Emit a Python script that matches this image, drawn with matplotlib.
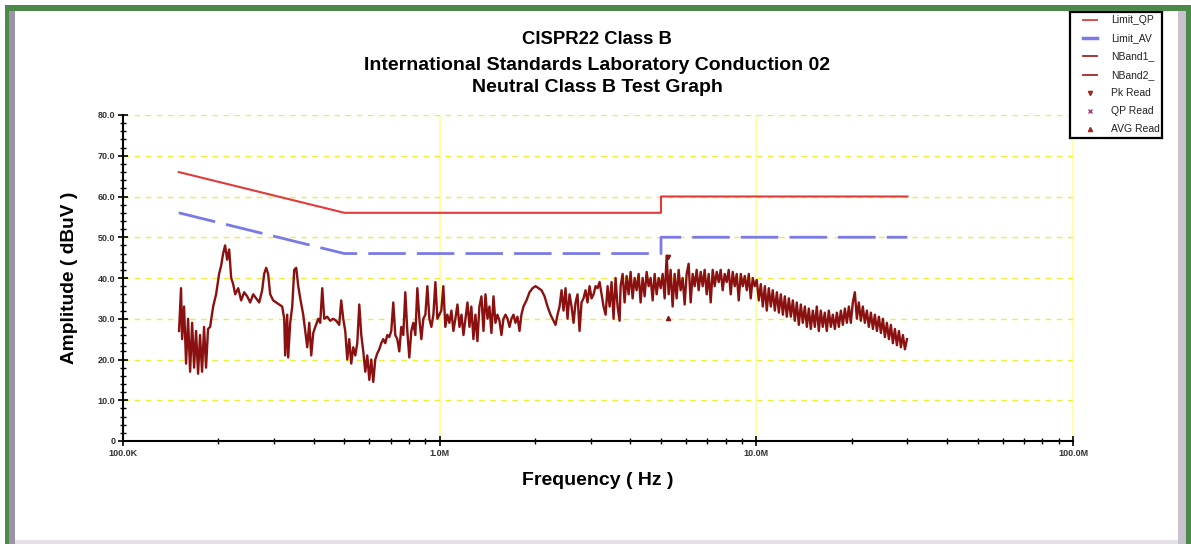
import matplotlib
matplotlib.use('Agg')
import matplotlib.pyplot as plt
from matplotlib.patches import Rectangle
from matplotlib.ticker import LogLocator, NullFormatter, MultipleLocator

# limit lines (MHz, dBuV)
qp_mhz = [0.15, 0.5, 5.0, 5.0, 30.0]
qp_db = [66.0, 56.0, 56.0, 60.0, 60.0]
av_mhz = [0.15, 0.5, 5.0, 5.0, 30.0]
av_db = [56.0, 46.0, 46.0, 50.0, 50.0]

trace_mhz = [
    0.1503, 0.1525, 0.1537, 0.1559, 0.1582, 0.1605, 0.1629, 0.1653, 0.1677, 0.1701,
    0.1726, 0.1751, 0.1777, 0.1803, 0.1829, 0.1856, 0.1884, 0.1926, 0.1968, 0.2011,
    0.2041, 0.2071, 0.2101, 0.2132, 0.2164, 0.2196, 0.2228, 0.2261, 0.2311, 0.2361,
    0.2413, 0.2467, 0.2521, 0.2577, 0.2634, 0.2692, 0.2751, 0.2791, 0.2832, 0.2873,
    0.2916, 0.2980, 0.3046, 0.3113, 0.3182, 0.3229, 0.3252, 0.3300, 0.3324, 0.3373,
    0.3423, 0.3473, 0.3524, 0.3576, 0.3628, 0.3708, 0.3763, 0.3818, 0.3874, 0.3930,
    0.3988, 0.4047, 0.4136, 0.4196, 0.4258, 0.4320, 0.4415, 0.4512, 0.4612, 0.4714,
    0.4818, 0.4888, 0.4960, 0.5033, 0.5107, 0.5181, 0.5258, 0.5335, 0.5414, 0.5493,
    0.5574, 0.5655, 0.5738, 0.5823, 0.5908, 0.5995, 0.6081, 0.6170, 0.6261, 0.6353,
    0.6446, 0.6540, 0.6636, 0.6734, 0.6833, 0.6933, 0.7034, 0.7137, 0.7242, 0.7348,
    0.7456, 0.7565, 0.7676, 0.7789, 0.7903, 0.8019, 0.8137, 0.8257, 0.8378, 0.8501,
    0.8626, 0.8753, 0.8881, 0.9012, 0.9144, 0.9278, 0.9415, 0.9553, 0.9693, 0.9835,
    0.9980, 1.012, 1.027, 1.042, 1.057, 1.073, 1.089, 1.105, 1.121, 1.138,
    1.155, 1.172, 1.189, 1.206, 1.224, 1.242, 1.259, 1.278, 1.297, 1.316,
    1.335, 1.355, 1.375, 1.395, 1.416, 1.436, 1.457, 1.479, 1.500, 1.522,
    1.545, 1.567, 1.590, 1.614, 1.638, 1.662, 1.685, 1.710, 1.735, 1.761,
    1.787, 1.812, 1.839, 1.880, 1.922, 1.965, 2.008, 2.052, 2.097, 2.144,
    2.191, 2.239, 2.289, 2.322, 2.356, 2.391, 2.426, 2.461, 2.497, 2.534,
    2.571, 2.609, 2.647, 2.686, 2.725, 2.765, 2.805, 2.846, 2.888, 2.930,
    2.974, 3.018, 3.062, 3.107, 3.153, 3.199, 3.246, 3.293, 3.342, 3.391,
    3.441, 3.490, 3.541, 3.593, 3.646, 3.700,
    3.727, 3.782, 3.837, 3.894, 3.951, 4.008, 4.067, 4.127, 4.187, 4.249,
    4.311, 4.374, 4.439, 4.504, 4.570, 4.637, 4.705, 4.774, 4.844, 4.916,
    4.987, 5.060, 5.135, 5.210, 5.286, 5.362, 5.441, 5.521, 5.602, 5.684,
    5.767, 5.852, 5.938, 6.025, 6.113, 6.203, 6.294, 6.387, 6.480, 6.575,
    6.672, 6.770, 6.869, 6.970, 7.072, 7.176, 7.281, 7.388, 7.497, 7.607,
    7.717, 7.830, 7.945, 8.062, 8.180, 8.300, 8.422, 8.546, 8.671, 8.798,
    8.930, 9.061, 9.194, 9.329, 9.466, 9.600, 9.741, 9.884, 10.03, 10.18,
    10.33, 10.48, 10.64, 10.79, 10.95, 11.11, 11.27, 11.44, 11.61, 11.78,
    11.95, 12.13, 12.30, 12.48, 12.67, 12.85, 13.04, 13.23, 13.42, 13.62,
    13.82, 14.02, 14.23, 14.44, 14.65, 14.86, 15.08, 15.30, 15.52, 15.75,
    15.98, 16.21, 16.45, 16.69, 16.94, 17.19, 17.44, 17.70, 17.96, 18.22,
    18.49, 18.76, 19.04, 19.31, 19.60, 19.88, 20.17, 20.47, 20.77, 21.07,
    21.38, 21.69, 22.01, 22.34, 22.66, 23.00, 23.34, 23.68, 24.03, 24.38,
    24.74, 25.10, 25.47, 25.84, 26.22, 26.60, 26.99, 27.39, 27.79, 28.20,
    28.61, 29.03, 29.46, 29.90,
]
trace_db = [
    27, 37.5, 25, 33, 19, 30, 17, 29, 18, 27,
    16.5, 26, 17, 28, 18, 27.5, 28, 33, 36, 41,
    43, 46, 48, 44.5, 47, 40, 38.5, 36, 37.5, 34.5,
    36.5, 35.5, 34, 36, 35, 34, 37, 41, 42.5, 41,
    36, 34.5, 34, 33.5, 33, 30, 21, 31, 20.5, 29,
    33, 42, 42.5, 38, 35, 31, 27, 23, 29, 21,
    26.5, 28, 30, 29, 37.5, 30, 30.5, 29.5, 30, 29.5,
    28.5, 34.5, 30, 27, 20, 25, 19, 23, 21, 24,
    33.5, 26, 22, 17, 21, 15, 20, 14.5, 20, 21.5,
    22.5, 24, 25, 24, 26, 25.5, 27, 34, 26, 25,
    22, 28, 26, 36.5, 27, 20.5, 27, 29, 26, 37.5,
    30, 25, 30, 31, 38, 30, 28, 31, 39, 30,
    31, 32, 38, 28, 31, 29, 32, 27, 30, 33.5,
    28, 31, 26, 30, 34, 28, 33, 25, 31, 24.5,
    33, 35.5, 27, 36, 30, 33, 26.5, 35.5, 29, 31,
    29.5, 26, 30, 31, 30, 28, 30, 31, 29, 30.5,
    27, 31, 33, 34.5, 36.5, 37.5, 38, 37.5, 37, 35.5,
    33, 31, 29.5, 28.5, 31, 33, 37, 32, 37.5, 30,
    36, 33, 29, 34, 36, 27, 34, 35, 37, 34,
    38, 35, 36, 38, 37.5, 39, 36, 33, 31, 38,
    33, 39, 30, 40, 33, 29.5,
    38, 41, 34, 40.5, 36, 41.5, 35, 40, 37, 41,
    34, 40, 35.5, 41.5, 38, 40, 34.5, 41, 36, 40,
    37.5, 41, 35, 45.5, 36, 42, 33, 41, 35, 42,
    37, 40, 33.5, 41, 43.5, 34, 41, 38, 42, 37,
    41.5, 38, 42, 36, 41, 34, 42, 38, 41.5, 39,
    42, 37, 41, 39, 42, 36, 41.5, 38, 41, 34.5,
    41, 38, 40.5, 37, 41, 35, 40, 38, 39.5, 34.5,
    38.5, 33, 38, 32, 37.5, 33, 37, 32, 36.5, 31.5,
    36, 31, 35.5, 30.5, 35, 30.5, 34.5, 29.5, 34, 28.5,
    33.5, 29, 33, 28, 32.5, 27.5, 32, 28, 33, 27,
    32, 28, 31.5, 27, 32, 28, 31, 27.5, 31.5, 28,
    32, 28.5, 32.5, 29, 33, 29, 34, 36.5, 30, 34,
    29.5, 33, 29, 32, 28, 31.5, 27.5, 31, 27, 30.5,
    26.5, 30, 25.5, 29, 25, 28.5, 24, 27.5, 23.5, 27,
    23, 26, 22.5, 25,
]

# final readings
pk_mhz = [5.25]
pk_db = [45.2]
avg_mhz = [5.25]
avg_db = [30.3]

y_ticks = [0, 10, 20, 30, 40, 50, 60, 70, 80]
y_labels = ["0", "10.0", "20.0", "30.0", "40.0", "50.0", "60.0", "70.0", "80.0"]
x_ticks = [0.1, 1, 10, 100]
x_labels = ["100.0K", "1.0M", "10.0M", "100.0M"]
legend_labels = ["Limit_QP", "Limit_AV", "NBand1_", "NBand2_", "Pk Read", "QP Read", "AVG Read"]

plt.rcParams['font.family'] = ['Liberation Sans', 'DejaVu Sans']

fig = plt.figure(figsize=(11.91, 5.44), dpi=100)
ax = fig.add_axes([123/1191, 1-441/544, 950/1191, 326/544])

red = '#e03a3a'
blue = '#7a7ae6'
dred = '#8b1010'

ax.plot(qp_mhz, qp_db, color=red, lw=1.5, zorder=3)
ax.plot(av_mhz, av_db, color=blue, lw=2.0, dashes=(13.5, 4), zorder=3)
ax.plot(trace_mhz, trace_db, color=dred, lw=1.7, zorder=4)
ax.plot(pk_mhz, pk_db, 'v', color=dred, ms=3, zorder=5)
ax.plot(avg_mhz, avg_db, '^', color=dred, ms=3, zorder=5)

ax.set_xscale('log')
ax.set_xlim(0.1, 100)
ax.set_ylim(0, 80)
ax.set_xticks(x_ticks, x_labels)
ax.xaxis.set_minor_locator(LogLocator(base=10, subs=range(2, 10)))
ax.xaxis.set_minor_formatter(NullFormatter())
ax.set_yticks(y_ticks, y_labels)
ax.yaxis.set_minor_locator(MultipleLocator(2))
ax.tick_params(which='major', direction='inout', length=7, width=1.2, labelsize=6.5, pad=2)
ax.tick_params(which='minor', direction='inout', length=5, width=1.0)
for lab in ax.get_xticklabels() + ax.get_yticklabels():
    lab.set_fontweight('bold')
    lab.set_color('#333333')

for s in ['top', 'right']:
    ax.spines[s].set_visible(False)
for s in ['left', 'bottom']:
    ax.spines[s].set_linewidth(1.5)

ax.yaxis.grid(True, which='major', color='#eded3a', lw=1.0, dashes=(4, 4))
ax.xaxis.grid(True, which='major', color='#ffff90', lw=1.2)
ax.set_axisbelow(True)

ax.set_ylabel("Amplitude ( dBuV )", fontsize=13.8, fontweight='bold', labelpad=14)
ax.set_xlabel("Frequency ( Hz )", fontsize=14, fontweight='bold', labelpad=10)

fig.text(0.5015, 1-40/544, "CISPR22 Class B", ha='center', va='center', fontsize=13.3, fontweight='bold')
fig.text(0.5015, 1-65/544, "International Standards Laboratory Conduction 02", ha='center', va='center',
         fontsize=14, fontweight='bold')
fig.text(0.5015, 1-88/544, "Neutral Class B Test Graph", ha='center', va='center', fontsize=14, fontweight='bold')

# legend box drawn as its own small axes, text clipped at the frame like the original
lax = fig.add_axes([1070/1191, 1-138/544, 92/1191, 126/544])
lax.set_xlim(0, 92)
lax.set_ylim(126, 0)
lax.set_xticks([])
lax.set_yticks([])
for s in lax.spines.values():
    s.set_linewidth(1.6)
lc = '#a02828'
row_y = [8, 26, 44, 63, 81, 99, 117]
lax.plot([13, 27], [row_y[0]] * 2, color=red, lw=1.3)
lax.plot([13, 27], [row_y[1]] * 2, color=blue, lw=2.5)
lax.plot([13, 27], [row_y[2]] * 2, color=lc, lw=1.3)
lax.plot([13, 27], [row_y[3]] * 2, color=lc, lw=1.3)
lax.plot([20], [row_y[4]], 'v', color=lc, ms=3)
lax.plot([20], [row_y[5]], 'x', color='#a04080', ms=3)
lax.plot([20], [row_y[6]], '^', color=lc, ms=3)
for yy, lab in zip(row_y, legend_labels):
    lax.text(41, yy, lab, fontsize=7.5, va='center', ha='left', color='#222222', clip_on=True)

# outer frame of the screenshot
fig.add_artist(Rectangle((5/1191, 0), 4/1191, 1-5/544, transform=fig.transFigure, color='#4b8a4b', lw=0))
fig.add_artist(Rectangle((9/1191, 0), 6/1191, 1-11/544, transform=fig.transFigure, color='#9c93a6', lw=0))
fig.add_artist(Rectangle((5/1191, 1-11/544), 1-5/1191, 6/544, transform=fig.transFigure, color='#4b8a4b', lw=0))
fig.add_artist(Rectangle((1178/1191, 0), 8/1191, 1-11/544, transform=fig.transFigure, color='#c9c1cd', lw=0))
fig.add_artist(Rectangle((1186/1191, 0), 5/1191, 1-5/544, transform=fig.transFigure, color='#4b8a4b', lw=0))
fig.add_artist(Rectangle((15/1191, 0), 1163/1191, 4/544, transform=fig.transFigure, color='#e4e0e6', lw=0))

fig.savefig('out.png', dpi=100)
